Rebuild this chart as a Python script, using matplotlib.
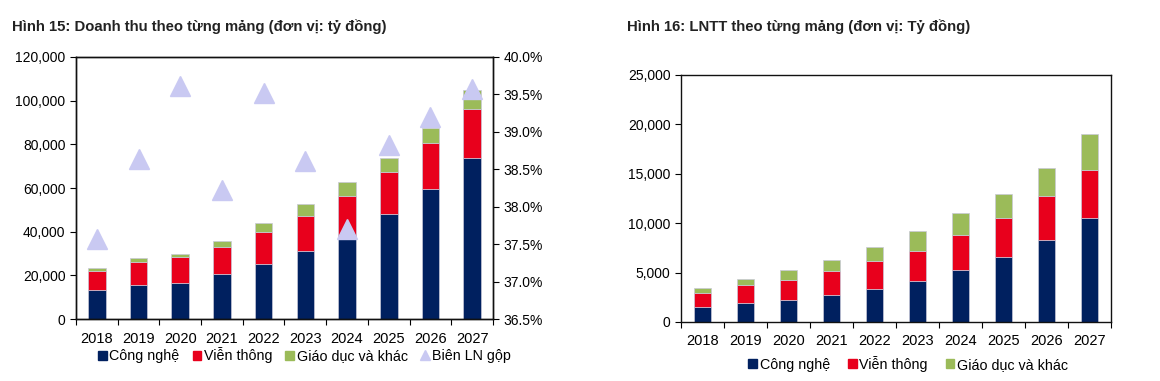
import numpy as np
import matplotlib
matplotlib.use("Agg")
import matplotlib.pyplot as plt
from matplotlib.ticker import FuncFormatter, MultipleLocator
from matplotlib.lines import Line2D
from matplotlib.patches import Patch

plt.rcParams['font.family'] = ['Liberation Sans', 'DejaVu Sans']

years = ['2018', '2019', '2020', '2021', '2022', '2023', '2024', '2025', '2026', '2027']

# Hinh 15 - revenue by segment (ty dong)
rev_tech = [13100, 15400, 16600, 20600, 25400, 31200, 36500, 48100, 59500, 73900]
rev_telecom = [9100, 10500, 11600, 12600, 14500, 15900, 20000, 19100, 20900, 22300]
rev_edu = [1300, 2000, 1500, 2400, 4100, 5600, 6200, 6700, 7300, 8600]
gross_margin = [37.57, 38.64, 39.61, 38.23, 39.52, 38.61, 37.70, 38.82, 39.20, 39.57]

# Hinh 16 - profit before tax by segment (ty dong)
pbt_tech = [1480, 1920, 2190, 2770, 3370, 4120, 5230, 6550, 8270, 10490]
pbt_telecom = [1490, 1830, 2090, 2430, 2840, 3070, 3540, 3980, 4480, 4860]
pbt_edu = [470, 570, 980, 1110, 1410, 1990, 2260, 2430, 2870, 3650]

C_NAVY = '#00205F'
C_RED = '#E8001C'
C_GREEN = '#9BBB59'
C_TRI = '#C9C9F2'

seg_labels = ['Công nghệ', 'Viễn thông', 'Giáo dục và khác']

fig = plt.figure(figsize=(11.6, 3.81), dpi=100)
fig.patch.set_facecolor('white')

thousands = FuncFormatter(lambda v, p: f'{int(v):,}')


def stacked(ax, a, b, c, width, xpad):
    x = np.arange(len(years))
    a, b, c = np.array(a), np.array(b), np.array(c)
    kw = dict(width=width, edgecolor='#c8c8d8', linewidth=0.5, zorder=2)
    ax.bar(x, a, color=C_NAVY, **kw)
    ax.bar(x, b, bottom=a, color=C_RED, **kw)
    ax.bar(x, c, bottom=a + b, color=C_GREEN, **kw)
    ax.set_xlim(-0.5, len(years) - 0.5)
    ax.set_xticks(np.arange(len(years) + 1) - 0.5)
    ax.set_xticklabels([])
    ax.set_xticks(x, minor=True)
    ax.set_xticklabels(years, minor=True, fontsize=10.5)
    ax.tick_params(axis='x', which='major', direction='out', length=4, width=0.8)
    ax.tick_params(axis='x', which='minor', length=0, pad=xpad)
    ax.tick_params(axis='y', direction='out', length=4, width=0.8, labelsize=10)
    ax.yaxis.set_major_formatter(thousands)
    for s in ax.spines.values():
        s.set_linewidth(1.0)
        s.set_color('#111111')


# ---- left chart ----
ax1 = fig.add_axes([0.0655, 0.1627, 0.3595, 0.6877])
stacked(ax1, rev_tech, rev_telecom, rev_edu, 0.42, 9)
ax1.set_ylim(0, 120000)
ax1.yaxis.set_major_locator(MultipleLocator(20000))

ax1b = ax1.twinx()
ax1b.plot(np.arange(len(years)), gross_margin, linestyle='none', marker='^',
          markersize=14, color=C_TRI, markeredgecolor=C_TRI, zorder=3)
ax1b.set_ylim(36.5, 40.0)
ax1b.yaxis.set_major_locator(MultipleLocator(0.5))
ax1b.yaxis.set_major_formatter(FuncFormatter(lambda v, p: f'{v:.1f}%'))
ax1b.tick_params(axis='y', direction='out', length=4, width=0.8, labelsize=10)
for s in ax1b.spines.values():
    s.set_linewidth(1.0)
    s.set_color('#111111')

fig.text(0.0103, 0.929, 'Hình 15: Doanh thu theo từng mảng (đơn vị: tỷ đồng)',
         fontsize=10.7, fontweight='bold', color='#222222', va='center')

h1 = [Patch(color=C_NAVY), Patch(color=C_RED), Patch(color=C_GREEN),
      Line2D([], [], linestyle='none', marker='^', markersize=7, color=C_TRI)]
fig.legend(h1, seg_labels + ['Biên LN gộp'], loc='center', bbox_to_anchor=(0.2625, 0.068),
           ncol=4, frameon=False, fontsize=10.3, handlelength=0.6, handleheight=0.6,
           handletextpad=0.2, columnspacing=0.9)

# ---- right chart ----
ax2 = fig.add_axes([0.587, 0.1549, 0.3707, 0.6483])
stacked(ax2, pbt_tech, pbt_telecom, pbt_edu, 0.4, 9)
ax2.set_ylim(0, 25000)
ax2.yaxis.set_major_locator(MultipleLocator(5000))

fig.text(0.5405, 0.929, 'Hình 16: LNTT theo từng mảng (đơn vị: Tỷ đồng)',
         fontsize=10.7, fontweight='bold', color='#222222', va='center')

h2 = [Patch(color=C_NAVY), Patch(color=C_RED), Patch(color=C_GREEN)]
fig.legend(h2, seg_labels, loc='center', bbox_to_anchor=(0.783, 0.045),
           ncol=3, frameon=False, fontsize=10.3, handlelength=0.6, handleheight=0.6,
           handletextpad=0.2, columnspacing=1.25)

fig.savefig('out.png', dpi=100, facecolor='white')
